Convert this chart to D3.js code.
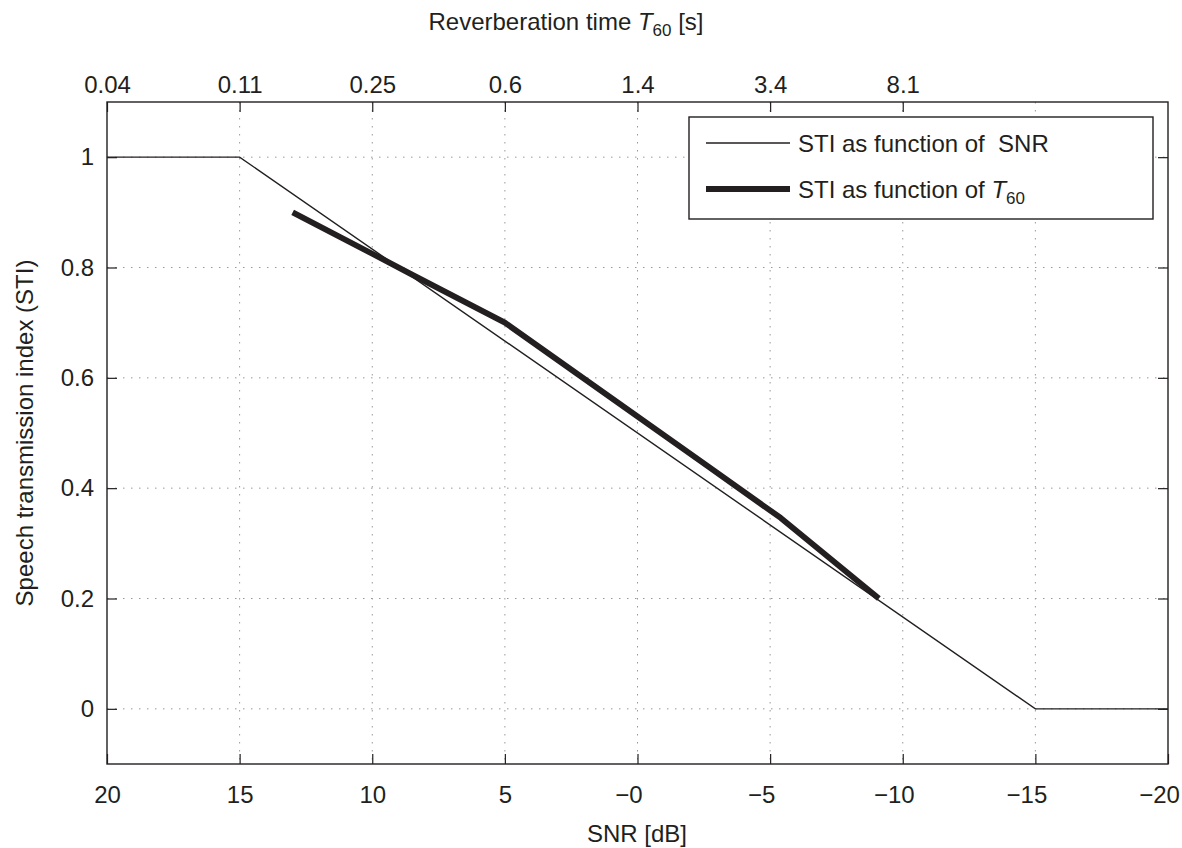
<!DOCTYPE html>
<html>
<head>
<meta charset="utf-8">
<script src="https://cdn.jsdelivr.net/npm/d3@7"></script>
<style>
    body { margin: 0; background: #fff; }
    svg { font-family: "Liberation Sans", Arial, sans-serif; }
    .axis text { font-size: 24px; fill: #231f20; }
    .axis line { stroke: #231f20; stroke-width: 1.2; }
    .grid line { stroke: #999; stroke-width: 1; stroke-dasharray: 1.5,6.5; }
</style>
</head>
<body>
<div id="chart"></div>
<script>
// Tick values and labels
const snrTicks = [20, 15, 10, 5, 0, -5, -10, -15, -20];
const snrTickLabels = ["20", "15", "10", "5", "\u22120", "\u22125", "\u221210", "\u221215", "\u221220"];
const t60Ticks = [20, 15, 10, 5, 0, -5, -10];
const t60TickLabels = ["0.04", "0.11", "0.25", "0.6", "1.4", "3.4", "8.1"];
const stiTicks = [0, 0.2, 0.4, 0.6, 0.8, 1];

// STI as function of SNR
const snrLineX = [20, 15, -15, -20];
const snrLineY = [1, 1, 0, 0];

// STI as function of T60 (plotted on the SNR axis)
const t60LineX = [13, 10, 8.5, 5, -2.7, -5.4, -9.1];
const t60LineY = [0.9, 0.825, 0.787, 0.7, 0.438, 0.346, 0.2];

const ink = "#231f20";

// Set up dimensions
let dimensions = {
    width: 1182,
    height: 848,
    margin: {top: 102, right: 14, bottom: 84, left: 107},
}
dimensions.boundedWidth = dimensions.width - dimensions.margin.left - dimensions.margin.right
dimensions.boundedHeight = dimensions.height - dimensions.margin.top - dimensions.margin.bottom

// Set up scales
const xScale = d3.scaleLinear()
    .domain([20, -20])
    .range([0, dimensions.boundedWidth]);

const yScale = d3.scaleLinear()
    .domain([-0.1, 1.1])
    .range([dimensions.boundedHeight, 0]);

const svg = d3.select("#chart")
    .append("svg")
        .attr("width", dimensions.width)
        .attr("height", dimensions.height)

const bounds = svg.append("g")
    .attr("transform", `translate(${dimensions.margin.left}, ${dimensions.margin.top})`)

// Grid
const grid = bounds.append("g").attr("class", "grid")
grid.selectAll(".vgrid")
    .data(snrTicks.slice(1, -1))
    .join("line")
        .attr("x1", d => xScale(d))
        .attr("x2", d => xScale(d))
        .attr("y1", 0)
        .attr("y2", dimensions.boundedHeight)
grid.selectAll(".hgrid")
    .data(stiTicks)
    .join("line")
        .attr("class", "hgrid")
        .attr("x1", 0)
        .attr("x2", dimensions.boundedWidth)
        .attr("y1", d => yScale(d))
        .attr("y2", d => yScale(d))

// Lines
const line = d3.line()
    .x(d => xScale(d[0]))
    .y(d => yScale(d[1]));

bounds.append("path")
    .datum(d3.zip(snrLineX, snrLineY))
    .attr("d", line)
    .attr("fill", "none")
    .attr("stroke", ink)
    .attr("stroke-width", 1.4)

bounds.append("path")
    .datum(d3.zip(t60LineX, t60LineY))
    .attr("d", line)
    .attr("fill", "none")
    .attr("stroke", ink)
    .attr("stroke-width", 5.8)
    .attr("stroke-linejoin", "round")

// Axes
const xAxisBottom = bounds.append("g")
    .attr("class", "axis")
    .attr("transform", `translate(0, ${dimensions.boundedHeight})`)
    .call(d3.axisBottom(xScale)
        .tickValues(snrTicks)
        .tickFormat((d, i) => snrTickLabels[i])
        .tickSizeInner(-10)
        .tickSizeOuter(0)
        .tickPadding(22))
xAxisBottom.select(".domain").remove()
// minus sign hangs to the left of the digits
xAxisBottom.selectAll(".tick text")
    .attr("dx", d => d < 0 || d === 0 ? -9 : 0)

const xAxisTop = bounds.append("g")
    .attr("class", "axis")
    .call(d3.axisTop(xScale)
        .tickValues(t60Ticks)
        .tickFormat((d, i) => t60TickLabels[i])
        .tickSizeInner(-10)
        .tickSizeOuter(0)
        .tickPadding(9))
xAxisTop.select(".domain").remove()

const yAxisLeft = bounds.append("g")
    .attr("class", "axis")
    .call(d3.axisLeft(yScale)
        .tickValues(stiTicks)
        .tickFormat(d => d)
        .tickSizeInner(-10)
        .tickSizeOuter(0)
        .tickPadding(13))
yAxisLeft.select(".domain").remove()

const yAxisRight = bounds.append("g")
    .attr("class", "axis")
    .attr("transform", `translate(${dimensions.boundedWidth}, 0)`)
    .call(d3.axisRight(yScale)
        .tickValues(stiTicks)
        .tickFormat("")
        .tickSizeInner(-10)
        .tickSizeOuter(0))
yAxisRight.select(".domain").remove()

// Box
bounds.append("rect")
    .attr("width", dimensions.boundedWidth)
    .attr("height", dimensions.boundedHeight)
    .attr("fill", "none")
    .attr("stroke", ink)
    .attr("stroke-width", 1.4)

// Axis labels
svg.append("text")
    .attr("x", 637)
    .attr("y", 842)
    .attr("text-anchor", "middle")
    .style("font-size", "24px")
    .style("fill", ink)
    .text("SNR [dB]")

svg.append("text")
    .attr("transform", `translate(33, ${dimensions.margin.top + dimensions.boundedHeight / 2}) rotate(-90)`)
    .attr("text-anchor", "middle")
    .style("font-size", "24px")
    .style("fill", ink)
    .text("Speech transmission index (STI)")

const title = svg.append("text")
    .attr("x", 566)
    .attr("y", 30)
    .attr("text-anchor", "middle")
    .style("font-size", "24px")
    .style("fill", ink)
title.append("tspan").text("Reverberation time ")
title.append("tspan").style("font-style", "italic").text("T")
title.append("tspan").attr("dy", 6).style("font-size", "17px").text("60")
title.append("tspan").attr("dy", -6).text(" [s]")

// Legend
const legend = svg.append("g")
legend.append("rect")
    .attr("x", 689)
    .attr("y", 117)
    .attr("width", 464)
    .attr("height", 102)
    .attr("fill", "#fff")
    .attr("stroke", ink)
    .attr("stroke-width", 1.4)

legend.append("line")
    .attr("x1", 706).attr("x2", 790)
    .attr("y1", 143).attr("y2", 143)
    .attr("stroke", ink)
    .attr("stroke-width", 1.4)
legend.append("text")
    .attr("x", 798)
    .attr("y", 152)
    .attr("xml:space", "preserve")
    .style("white-space", "pre")
    .style("font-size", "24px")
    .style("fill", ink)
    .text("STI as function of  SNR")

legend.append("line")
    .attr("x1", 706).attr("x2", 790)
    .attr("y1", 189).attr("y2", 189)
    .attr("stroke", ink)
    .attr("stroke-width", 5.8)
const leg2 = legend.append("text")
    .attr("x", 798)
    .attr("y", 198)
    .style("font-size", "24px")
    .style("fill", ink)
leg2.append("tspan").text("STI as function of ")
leg2.append("tspan").style("font-style", "italic").text("T")
leg2.append("tspan").attr("dy", 6).style("font-size", "17px").text("60")
</script>
</body>
</html>
